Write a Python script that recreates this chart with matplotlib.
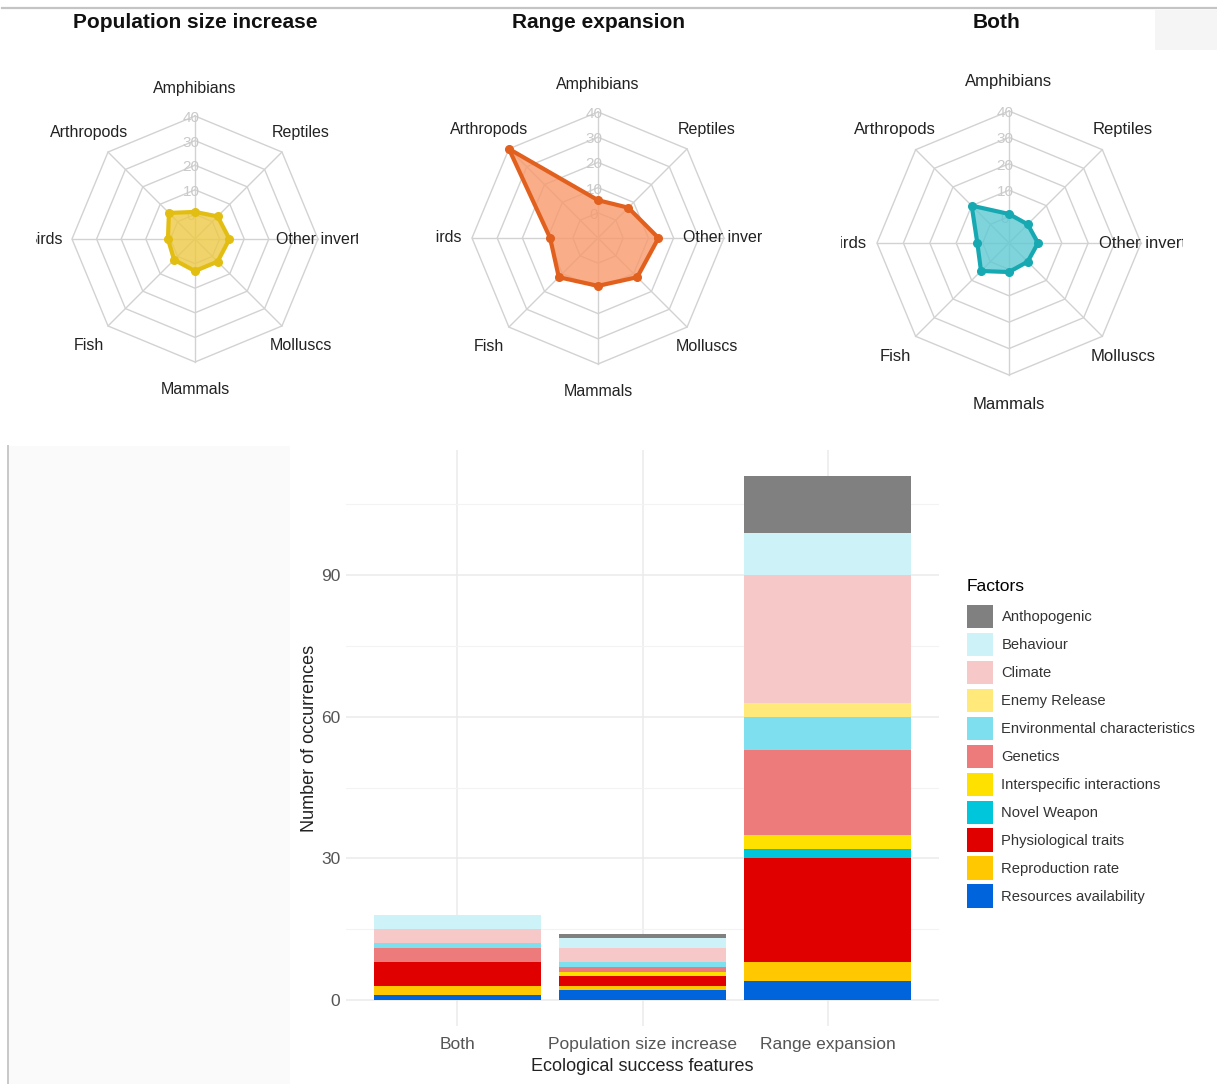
import numpy as np
import matplotlib
matplotlib.use("Agg")
import matplotlib.pyplot as plt
from matplotlib.patches import Rectangle

plt.rc('font', family=['Liberation Sans', 'DejaVu Sans'])

# species groups (radar axes, counterclockwise from the top)
species = ["Amphibians", "Arthropods", "Birds", "Fish", "Mammals",
           "Molluscs", "Other invertebrates", "Reptiles"]
pop_counts = [1, 5, 1, 2, 3, 3, 4, 3]
range_counts = [5, 40, 9, 12, 9, 12, 14, 7]
both_counts = [1, 10, 2, 5, 1, 0, 1, 0]
radar_ticks = [0, 10, 20, 30, 40]

# factors per ecological success feature
features = ["Both", "Population size increase", "Range expansion"]
factors = ["Anthopogenic", "Behaviour", "Climate", "Enemy Release",
           "Environmental characteristics", "Genetics",
           "Interspecific interactions", "Novel Weapon",
           "Physiological traits", "Reproduction rate",
           "Resources availability"]
anthropogenic = [0, 1, 12]
behaviour = [3, 2, 9]
climate = [3, 3, 27]
enemy_release = [0, 0, 3]
environment = [1, 1, 7]
genetics = [3, 1, 18]
interspecific = [0, 1, 3]
novel_weapon = [0, 0, 2]
physiological = [5, 2, 22]
reproduction = [2, 1, 4]
resources = [1, 2, 4]

factor_colors = ["#808080", "#CDF2F7", "#F7C8C8", "#FFE97A", "#7EDFEE",
                 "#EE7B7B", "#FFE100", "#00C6DC", "#E00000", "#FFC800",
                 "#0064DC"]

W, H = 1217, 1084
fig = plt.figure(figsize=(W / 100, H / 100), dpi=100)


def px_axes(x0, y0, x1, y1):
    return fig.add_axes([x0 / W, 1 - y1 / H, (x1 - x0) / W, (y1 - y0) / H])


# frame lines around the panels
bg = fig.add_axes([0, 0, 1, 1], zorder=-5)
bg.set_xlim(0, W)
bg.set_ylim(H, 0)
bg.axis('off')
bg.plot([2, W], [8, 8], color='#C4C4C4', lw=1.6)
bg.add_patch(Rectangle((1155, 10), 62, 40, color='#F5F5F5', lw=0))
bg.add_patch(Rectangle((9, 446), 281, 640, color='#FAFAFA', lw=0))
bg.plot([8, 8], [446, H], color='#C8C8C8', lw=1.4)


def radar(box, cx, cy, R, values, line_col, fill_col, title, title_x,
          lab_size):
    x0, y0, x1, y1 = box
    ax = px_axes(x0, y0, x1, y1)
    ax.set_xlim(x0 - cx, x1 - cx)
    ax.set_ylim(cy - y1, cy - y0)
    ax.axis('off')
    ang = np.deg2rad(90 + 45 * np.arange(len(species)))
    # octagon grid and spokes
    for k in range(1, 6):
        r = R * k / 5
        ax.plot(np.append(r * np.cos(ang), r * np.cos(ang[0])),
                np.append(r * np.sin(ang), r * np.sin(ang[0])),
                color='#D2D2D2', lw=1.0, zorder=1)
    for a in ang:
        ax.plot([0, R * np.cos(a)], [0, R * np.sin(a)], color='#D2D2D2',
                lw=1.0, zorder=1)
    for k, t in enumerate(radar_ticks):
        ax.text(-4, R * (k + 1) / 5 - 2, str(t), color='#CACACA',
                fontsize=11, ha='center', va='center', zorder=2)
    # data polygon
    v = np.array(values, dtype=float)
    rr = R * (0.2 + 0.8 * v / radar_ticks[-1])
    px, py = rr * np.cos(ang), rr * np.sin(ang)
    ax.fill(px, py, color=fill_col, alpha=0.8, lw=0, zorder=3)
    ax.plot(np.append(px, px[0]), np.append(py, py[0]), color=line_col,
            lw=3.0, zorder=4)
    ax.plot(px, py, 'o', color=line_col, ms=5.5, zorder=5)
    for a, name in zip(ang, species):
        ax.text(1.22 * R * np.cos(a), 1.22 * R * np.sin(a), name,
                fontsize=lab_size, color='#222222', ha='center', va='center',
                clip_on=True)
    fig.text(title_x / W, 1 - 22 / H, title, fontsize=15, fontweight='bold',
             ha='center', va='center', color='#111111',
             family=['Liberation Sans Narrow', 'Liberation Sans'])


radar((36, 62, 358, 410), 195, 239, 123, pop_counts, '#E3BE12', '#EDC945',
      "Population size increase", 195, 11.5)
radar((436, 62, 762, 410), 598, 238, 126, range_counts, '#E2601E', '#F89A6C',
      "Range expansion", 598, 11.5)
radar((841, 62, 1183, 425), 1009, 243, 132, both_counts, '#17A9B2', '#5FC9D2',
      "Both", 997, 12)

# stacked bars
ax = px_axes(346, 450, 939, 1026)
stack = [resources, reproduction, physiological, novel_weapon, interspecific,
         genetics, environment, enemy_release, climate, behaviour,
         anthropogenic]
names = factors[::-1]
cols = factor_colors[::-1]
x = np.arange(1, len(features) + 1)
bottom = np.zeros(len(features))
handles = []
for vals, name, c in zip(stack, names, cols):
    b = ax.bar(x, vals, bottom=bottom, width=0.9, color=c, label=name,
               zorder=3, lw=0)
    handles.append(b)
    bottom += np.array(vals)

ax.set_xlim(0.4, 3.6)
ax.set_ylim(-5.55, 116.55)
ax.set_xticks(x)
ax.set_xticklabels(features)
ax.set_yticks([0, 30, 60, 90])
ax.set_yticks([15, 45, 75, 105], minor=True)
ax.grid(which='major', color='#EBEBEB', lw=1.1, zorder=0)
ax.grid(which='minor', axis='y', color='#F3F3F3', lw=0.8, zorder=0)
ax.set_axisbelow(True)
for s in ax.spines.values():
    s.set_visible(False)
ax.tick_params(which='both', length=0, labelsize=12.5, colors='#555555')
ax.tick_params(axis='x', pad=8)
ax.tick_params(axis='y', pad=4)
ax.set_ylabel("Number of occurrences", fontsize=13, color='#222222',
              labelpad=2)
ax.set_xlabel("Ecological success features", fontsize=13, color='#222222',
              labelpad=4)

leg = ax.legend(handles[::-1], factors, title="Factors",
                loc='upper left', bbox_to_anchor=(961 / W, 1 - 573 / H),
                bbox_transform=fig.transFigure, frameon=False, fontsize=10.6,
                title_fontsize=12.5, handlelength=1.75, handleheight=2.05,
                labelspacing=0.32, handletextpad=0.6, borderaxespad=0)
leg._legend_box.align = "left"
leg._legend_box.sep = 8
for t in leg.get_texts():
    t.set_color('#333333')

fig.savefig('out.png', dpi=100)
